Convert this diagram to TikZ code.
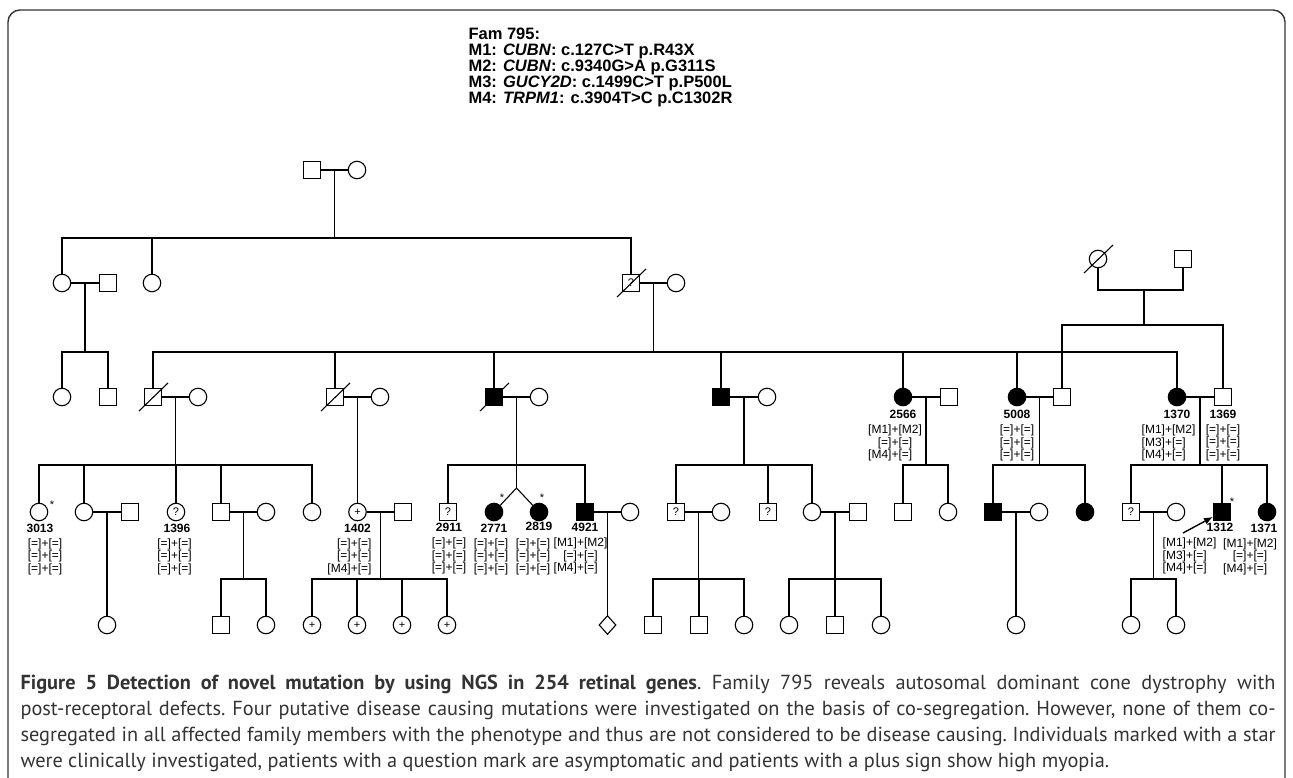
\documentclass[tikz,border=0pt]{standalone}
\usepackage{fontspec}
\setmainfont{Liberation Sans}
\newfontfamily\capfont{PT Sans}
\usetikzlibrary{positioning}
\usetikzlibrary{calc}
\usetikzlibrary{shapes.geometric}
\usetikzlibrary{arrows.meta}

\newcommand{\gtype}[6]{%
  \begin{tabular}{@{}r@{+}l@{}}
    {[#1]} & {[#2]} \\
    {[#3]} & {[#4]} \\
    {[#5]} & {[#6]}
  \end{tabular}}

\newcommand{\caplinea}{\textbf{Figure 5 Detection of novel mutation by using NGS in 254 retinal genes}.
  Family 795 reveals autosomal dominant cone dystrophy with}
\newcommand{\caplineb}{post-receptoral defects. Four putative disease causing mutations were
  investigated on the basis of co-segregation. However, none of them co-}
\newcommand{\caplinec}{segregated in all affected family members with the phenotype and thus are
  not considered to be disease causing. Individuals marked with a star}
\newcommand{\caplined}{were clinically investigated, patients with a question mark are
  asymptomatic and patients with a plus sign show high myopia.}
\newlength{\capw}

\begin{document}
\settowidth{\capw}{\capfont\fontsize{10}{12}\selectfont\frenchspacing\caplined}
\pgfmathsetmacro{\capsizea}{10*1095/\capw}
\settowidth{\capw}{\capfont\fontsize{10}{12}\selectfont\frenchspacing\caplinec}
\pgfmathsetmacro{\capsizeb}{10*1250/\capw}
\settowidth{\capw}{\capfont\fontsize{10}{12}\selectfont\frenchspacing\caplineb}
\pgfmathsetmacro{\capsizec}{10*1250/\capw}
\settowidth{\capw}{\capfont\fontsize{10}{12}\selectfont\frenchspacing\caplinea}
\pgfmathsetmacro{\capsized}{10*1250/\capw}
\pgfmathsetmacro{\capsize}{min(\capsizea,\capsizeb,\capsizec,\capsized)}
\begin{tikzpicture}[
      x = 1pt, y = -1pt,
      >= Latex,
      line width = 1.1pt,
      male/.style = {
        rectangle, draw, minimum size = 17pt, inner sep = 0pt,
        font = \fontsize{11}{11}\selectfont
      },
      female/.style = {
        circle, draw, minimum size = 17.5pt, inner sep = 0pt,
        font = \fontsize{11}{11}\selectfont
      },
      sexless/.style = {
        diamond, draw, minimum width = 17pt, minimum height = 19pt, inner sep = 0pt
      },
      affected/.style = { fill = black },
      deceased/.style = { append after command = {
          ([shift={(-14pt,-14pt)}]\tikzlastnode.center)
          edge ([shift={(15pt,14pt)}]\tikzlastnode.center) } },
      idlabel/.style = { font = \bfseries\fontsize{12}{12}\selectfont, inner sep = 0pt },
      geno/.style = { font = \fontsize{12}{12.5}\selectfont, inner sep = 0pt },
      examined/.style = { font = \fontsize{11}{11}\selectfont, inner sep = 0pt },
    ]

    \useasboundingbox (0,0) rectangle (1293,778);
    \draw[line width = 1.4pt, black!80, rounded corners = 12pt]
      (8,778) -- (8,10) -- (1285,10) -- (1285,778);

    \node[anchor = north west, align = left, inner sep = 0pt,
          font = \bfseries\fontsize{16.5}{16}\selectfont] (fam) at (468,27) {%
      Fam 795:\\
      M1: \textit{CUBN}: c.127C>T p.R43X\\
      M2: \textit{CUBN}: c.9340G>A p.G311S\\
      M3: \textit{GUCY2D}: c.1499C>T p.P500L\\
      M4: \textit{TRPM1}: c.3904T>C p.C1302R};

    \node[male] (I1) at (312,170) {};
    \node[female] (I2) at (357,170) {};

    \node[female, deceased] (Ra) at (1098,259) {};
    \node[male] (Rb) at (1183,259) {};

    \node[female] (IIa) at (62,283) {};
    \node[male] (IIb) at (108,283) {};
    \node[female] (IIc) at (152,283) {};
    \node[male, deceased] (IId) at (631,283) {?};
    \node[female] (IIe) at (676,283) {};

    \node[female] (IIIa) at (62,397) {};
    \node[male] (IIIb) at (108,397) {};
    \node[male, deceased] (IIIc) at (153,397) {};
    \node[female] (IIId) at (198,397) {};
    \node[male, deceased] (IIIe) at (335,397) {};
    \node[female] (IIIf) at (380,397) {};
    \node[male, affected, deceased] (IIIg) at (494,397) {};
    \node[female] (IIIh) at (539,397) {};
    \node[male, affected] (IIIi) at (721,397) {};
    \node[female] (IIIj) at (767,397) {};
    \node[female, affected] (p2566) at (903,397) {};
    \node[male] (IIIk) at (949,397) {};
    \node[female, affected] (p5008) at (1017,397) {};
    \node[male] (IIIl) at (1062,397) {};
    \node[female, affected] (p1370) at (1177,397) {};
    \node[male] (p1369) at (1223,397) {};

    \node[female] (p3013) at (39,512) {};
    \node[female] (IVa) at (84,512) {};
    \node[male] (IVb) at (130,512) {};
    \node[female] (p1396) at (176,512) {?};
    \node[male] (IVc) at (221,512) {};
    \node[female] (IVd) at (266,512) {};
    \node[female] (IVe) at (312,512) {};
    \node[female] (p1402) at (357.5,512) {+};
    \node[male] (IVf) at (403,512) {};
    \node[male] (p2911) at (448,512) {?};
    \node[female, affected] (p2771) at (494,512) {};
    \node[female, affected] (p2819) at (539,512) {};
    \node[male, affected] (p4921) at (585,512) {};
    \node[female] (IVg) at (630,512) {};
    \node[male] (IVh) at (676,512) {?};
    \node[female] (IVi) at (721,512) {};
    \node[male] (IVj) at (768,512) {?};
    \node[female] (IVk) at (812,512) {};
    \node[male] (IVl) at (858,512) {};
    \node[male] (IVm) at (903,512) {};
    \node[female] (IVn) at (948,512) {};
    \node[male, affected] (IVo) at (993,512) {};
    \node[female] (IVp) at (1039,512) {};
    \node[female, affected] (IVq) at (1085,512) {};
    \node[male] (IVr) at (1131,512) {?};
    \node[female] (IVs) at (1176,512) {};
    \node[male, affected] (p1312) at (1222,512) {};
    \node[female, affected] (p1371) at (1267,512) {};

    \node[female] (Va) at (107,625) {};
    \node[male] (Vb) at (221,625) {};
    \node[female] (Vc) at (266,625) {};
    \node[female] (Vd) at (312,625) {+};
    \node[female] (Ve) at (357,625) {+};
    \node[female] (Vf) at (402,625) {+};
    \node[female] (Vg) at (447,625) {+};
    \node[sexless] (Vh) at (607.5,625) {};
    \node[male] (Vi) at (653,625) {};
    \node[male] (Vj) at (699,625) {};
    \node[female] (Vk) at (744,625) {};
    \node[female] (Vl) at (789,625) {};
    \node[male] (Vm) at (835,625) {};
    \node[female] (Vn) at (881,625) {};
    \node[female] (Vo) at (1016,625) {};
    \node[female] (Vp) at (1131,625) {};
    \node[female] (Vq) at (1176,625) {};

    \draw (I1) -- (I2);
    \draw ($(I1)!.5!(I2)$) -- ++(0,68) coordinate (sI);
    \draw (IIa) |- (sI) (IIc) |- (sI) (IId) |- (sI);

    \coordinate (mR) at (1144,290);
    \draw (Ra) |- (mR) -| (Rb);
    \draw (mR) -- ++(0,35) coordinate (sR);
    \draw (IIIl) |- (sR) (p1369) |- (sR);

    \draw (IIa) -- (IIb);
    \draw ($(IIa)!.5!(IIb)$) -- ++(0,69) coordinate (sIIa);
    \draw (IIIa) |- (sIIa) (IIIb) |- (sIIa);

    \draw (IId) -- (IIe);
    \draw ($(IId)!.5!(IIe)$) -- ++(0,69) coordinate (sIIb);
    \draw (IIIc) |- (sIIb) (IIIe) |- (sIIb) (IIIg) |- (sIIb) (IIIi) |- (sIIb)
          (p2566) |- (sIIb) (p5008) |- (sIIb) (p1370) |- (sIIb);

    \draw (IIIc) -- (IIId);
    \draw ($(IIIc)!.5!(IIId)$) -- ++(0,68) coordinate (sIIIa);
    \draw (p3013) |- (sIIIa) (IVa) |- (sIIIa) (p1396) |- (sIIIa)
          (IVc) |- (sIIIa) (IVe) |- (sIIIa);

    \draw (IIIe) -- (IIIf);
    \draw ($(IIIe)!.5!(IIIf)$) -- (p1402);

    \draw (IIIg) -- (IIIh);
    \draw ($(IIIg)!.5!(IIIh)$) -- ++(0,68) coordinate (sIIIc) -- ++(0,23) coordinate (twin);
    \draw (p2911) |- (sIIIc) (p4921) |- (sIIIc);
    \draw (p2771) -- (twin) -- (p2819);

    \draw (IIIi) -- (IIIj);
    \draw ($(IIIi)!.5!(IIIj)$) -- ++(0,68) coordinate (sIIId);
    \draw (IVh) |- (sIIId) (IVj) |- (sIIId) (IVk) |- (sIIId);

    \draw (p2566) -- (IIIk);
    \draw ($(p2566)!.5!(IIIk)$) -- ++(0,68) coordinate (sIIIe);
    \draw (IVm) |- (sIIIe) (IVn) |- (sIIIe);

    \draw (p5008) -- (IIIl);
    \draw ($(p5008)!.5!(IIIl)$) -- ++(0,68) coordinate (sIIIf);
    \draw (IVo) |- (sIIIf) (IVq) |- (sIIIf);

    \draw (p1370) -- (p1369);
    \draw ($(p1370)!.5!(p1369)$) -- ++(0,68) coordinate (sIIIg);
    \draw (IVr) |- (sIIIg) (p1312) |- (sIIIg) (p1371) |- (sIIIg);

    \draw (IVa) -- (IVb);
    \draw ($(IVa)!.5!(IVb)$) -- (Va);
    \draw (IVc) -- (IVd);
    \draw ($(IVc)!.5!(IVd)$) -- ++(0,67) coordinate (sIVb);
    \draw (Vb) |- (sIVb) (Vc) |- (sIVb);
    \draw (p1402) -- (IVf);
    \draw ($(p1402)!.5!(IVf)$) -- ++(0,67) coordinate (sIVc);
    \draw (Vd) |- (sIVc) (Ve) |- (sIVc) (Vf) |- (sIVc) (Vg) |- (sIVc);
    \draw (p4921) -- (IVg);
    \draw ($(p4921)!.5!(IVg)$) -- (Vh);
    \draw (IVh) -- (IVi);
    \draw ($(IVh)!.5!(IVi)$) -- ++(0,67) coordinate (sIVe);
    \draw (Vi) |- (sIVe) (Vj) |- (sIVe) (Vk) |- (sIVe);
    \draw (IVk) -- (IVl);
    \draw ($(IVk)!.5!(IVl)$) -- ++(0,67) coordinate (sIVf);
    \draw (Vl) |- (sIVf) (Vm) |- (sIVf) (Vn) |- (sIVf);
    \draw (IVo) -- (IVp);
    \draw ($(IVo)!.5!(IVp)$) -- (Vo);
    \draw (IVr) -- (IVs);
    \draw ($(IVr)!.5!(IVs)$) -- ++(0,67) coordinate (sIVh);
    \draw (Vp) |- (sIVh) (Vq) |- (sIVh);

    \coordinate (arr) at (1183,533);
    \draw[-{Latex[length = 9pt, width = 7pt]}, line width = 1.4pt] (arr) -- (p1312);

    \node[examined] (st3013) at ([shift={(13,-7)}]p3013) {*};
    \node[examined] (st2771) at ([shift={(8,-14)}]p2771) {*};
    \node[examined] (st2819) at ([shift={(3,-14)}]p2819) {*};
    \node[examined] (st1312) at ([shift={(10,-10)}]p1312) {*};

    \node[idlabel, below = 3.5pt of p2566] (id2566) {2566};
    \node[geno, below = 5pt of id2566, xshift = -8pt] (gt2566) {\gtype{M1}{M2}{=}{=}{M4}{=}};
    \node[idlabel, below = 3.5pt of p5008] (id5008) {5008};
    \node[geno, below = 5pt of id5008] (gt5008) {\gtype{=}{=}{=}{=}{=}{=}};
    \node[idlabel, below = 3.5pt of p1370] (id1370) {1370};
    \node[geno, below = 5pt of id1370, xshift = -8.5pt] (gt1370) {\gtype{M1}{M2}{M3}{=}{M4}{=}};
    \node[idlabel, below = 3.5pt of p1369] (id1369) {1369};
    \node[geno, below = 5pt of id1369] (gt1369) {\gtype{=}{=}{=}{=}{=}{=}};

    \node[idlabel, below = 2pt of p3013, xshift = 1pt] (id3013) {3013};
    \node[geno, below = 5pt of id3013, xshift = 5pt] (gt3013) {\gtype{=}{=}{=}{=}{=}{=}};
    \node[idlabel, below = 2pt of p1396, xshift = 1pt] (id1396) {1396};
    \node[geno, below = 5pt of id1396, xshift = -2.5pt] (gt1396) {\gtype{=}{=}{=}{=}{=}{=}};
    \node[idlabel, below = 2pt of p1402] (id1402) {1402};
    \node[geno, below = 5pt of id1402, xshift = -8pt] (gt1402) {\gtype{=}{=}{=}{=}{M4}{=}};
    \node[idlabel, below = 2pt of p2911, xshift = 1pt] (id2911) {2911};
    \node[geno, below = 5pt of id2911] (gt2911) {\gtype{=}{=}{=}{=}{=}{=}};
    \node[idlabel, below = 2pt of p2771] (id2771) {2771};
    \node[geno, below = 5pt of id2771, xshift = -3pt] (gt2771) {\gtype{=}{=}{=}{=}{=}{=}};
    \node[idlabel, below = 0.5pt of p2819] (id2819) {2819};
    \node[geno, below = 6.5pt of id2819, xshift = -6pt] (gt2819) {\gtype{=}{=}{=}{=}{=}{=}};
    \node[idlabel, below = 2pt of p4921] (id4921) {4921};
    \node[geno, below = 5pt of id4921, xshift = -4.5pt] (gt4921) {\gtype{M1}{M2}{=}{=}{M4}{=}};
    \node[idlabel, below = 2pt of p1312, xshift = -2pt] (id1312) {1312};
    \node[geno, below = 5pt of id1312, xshift = -30.5pt] (gt1312) {\gtype{M1}{M2}{M3}{=}{M4}{=}};
    \node[idlabel, below = 2pt of p1371, xshift = -3pt] (id1371) {1371};
    \node[geno, below = 5pt of id1371, xshift = -14pt] (gt1371) {\gtype{M1}{M2}{=}{=}{M4}{=}};

    \node[anchor = north west, text width = 1255pt, align = justify, inner sep = 0pt,
          text = black!80, font = \capfont\fontsize{\capsize}{26}\selectfont\frenchspacing]
          (caption) at (20,674) {%
      \caplinea\linebreak \caplineb\linebreak \caplinec\linebreak \caplined};
  \end{tikzpicture}
\end{document}
